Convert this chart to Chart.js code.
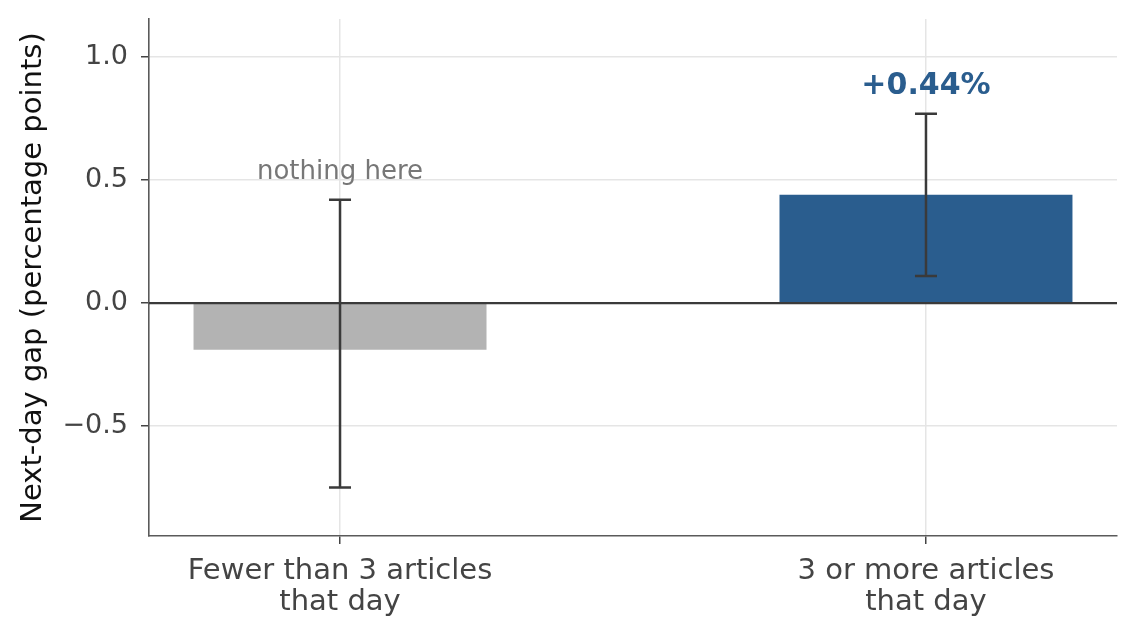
<!DOCTYPE html>
<html lang="en">
<head>
   <meta charset="UTF-8">
   <title>Next-day gap</title>
   <style>
      html, body { margin: 0; padding: 0; background: #fff; }
      .wrap { width: 1137px; height: 637px; }
   </style>
   <script src="https://cdn.jsdelivr.net/npm/chart.js@4/dist/chart.umd.min.js"></script>
</head>
<body>
   <div class="wrap"><canvas id="gap"></canvas></div>
   <script>
      // data
      const categories = [['Fewer than 3 articles', 'that day'], ['3 or more articles', 'that day']];
      const gapValues = [-0.19, 0.44];
      const ciLow = [-0.75, 0.11];
      const ciHigh = [0.42, 0.77];
      const barColors = ['#b3b3b3', '#2a5d8e'];
      const yTicks = [-0.5, 0.0, 0.5, 1.0];
      const notes = ['nothing here', '+0.44%'];
      const noteY = [0.505, 0.85];

      const fontFam = '"DejaVu Sans", sans-serif';

      const errorBars = {
         id: 'errorBars',
         afterDatasetsDraw(chart) {
            const ctx = chart.ctx;
            const x = chart.scales.x, y = chart.scales.y;
            const area = chart.chartArea;
            ctx.save();
            // zero line
            ctx.strokeStyle = '#3a3a3a';
            ctx.lineWidth = 2.2;
            ctx.beginPath();
            ctx.moveTo(area.left, y.getPixelForValue(0));
            ctx.lineTo(area.right, y.getPixelForValue(0));
            ctx.stroke();
            // error bars
            ctx.lineWidth = 2.5;
            for (let i = 0; i < gapValues.length; i++) {
               const px = x.getPixelForValue(i);
               const lo = y.getPixelForValue(ciLow[i]);
               const hi = y.getPixelForValue(ciHigh[i]);
               ctx.beginPath();
               ctx.moveTo(px, lo); ctx.lineTo(px, hi);
               ctx.moveTo(px - 11, lo); ctx.lineTo(px + 11, lo);
               ctx.moveTo(px - 11, hi); ctx.lineTo(px + 11, hi);
               ctx.stroke();
            }
            // notes
            ctx.textAlign = 'center';
            ctx.textBaseline = 'alphabetic';
            ctx.fillStyle = '#777777';
            ctx.font = '26px ' + fontFam;
            ctx.fillText(notes[0], x.getPixelForValue(0), y.getPixelForValue(noteY[0]));
            ctx.fillStyle = barColors[1];
            ctx.font = 'bold 30px ' + fontFam;
            ctx.fillText(notes[1], x.getPixelForValue(1), y.getPixelForValue(noteY[1]));
            ctx.restore();
         }
      };

      const ctx = document.getElementById('gap').getContext('2d');
      new Chart(ctx, {
         type: 'bar',
         data: {
            datasets: [{
               data: gapValues.map((v, i) => ({ x: i, y: v })),
               backgroundColor: barColors,
               borderWidth: 0,
               categoryPercentage: 1.0,
               barPercentage: 0.5
            }]
         },
         options: {
            responsive: true,
            maintainAspectRatio: false,
            animation: false,
            layout: { padding: { top: 19, right: 20, left: 0, bottom: 0 } },
            plugins: { legend: { display: false }, tooltip: { enabled: false } },
            scales: {
               x: {
                  type: 'linear',
                  min: -0.326,
                  max: 1.326,
                  offset: false,
                  afterBuildTicks: (s) => { s.ticks = categories.map((c, i) => ({ value: i })); },
                  afterFit: (s) => { s.height = 101; s.paddingLeft = 0; s.paddingRight = 0; },
                  ticks: {
                     callback: (v) => categories[v],
                     color: '#444444',
                     font: { family: fontFam, size: 29, lineHeight: 1.07 },
                     padding: 12,
                     maxRotation: 0,
                     autoSkip: false
                  },
                  grid: { offset: false, color: '#e5e5e5', lineWidth: 1.5, tickColor: '#444444', tickLength: 8 },
                  border: { color: '#5a5a5a', width: 1.6 }
               },
               y: {
                  min: -0.947,
                  max: 1.155,
                  afterBuildTicks: (s) => { s.ticks = yTicks.map(v => ({ value: v })); },
                  afterFit: (s) => { s.width = 149; s.paddingTop = 0; s.paddingBottom = 0; },
                  ticks: {
                     callback: (v) => (v < 0 ? '\u2212' + Math.abs(v).toFixed(1) : v.toFixed(1)),
                     color: '#444444',
                     font: { family: fontFam, size: 27 },
                     padding: 13
                  },
                  grid: {
                     color: (c) => (c.tick && c.tick.value === 0 ? 'rgba(0,0,0,0)' : '#e5e5e5'),
                     lineWidth: 1.5,
                     tickColor: '#444444',
                     tickLength: 8
                  },
                  border: { color: '#5a5a5a', width: 1.6 },
                  title: {
                     display: true,
                     text: 'Next-day gap (percentage points)',
                     color: '#111111',
                     font: { family: fontFam, size: 29 },
                     padding: { top: 16, bottom: 0 }
                  }
               }
            }
         },
         plugins: [errorBars]
      });
   </script>
</body>
</html>
